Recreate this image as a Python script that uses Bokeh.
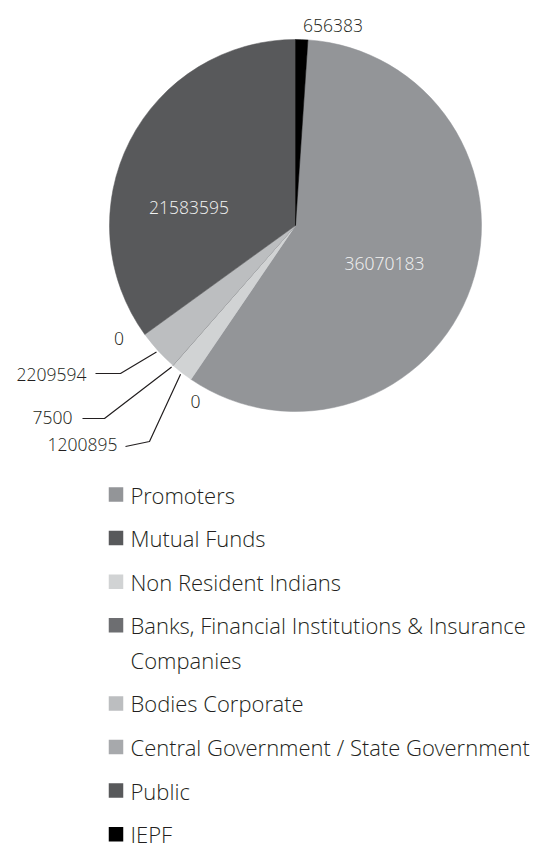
import math
from bokeh.plotting import figure
from bokeh.models import Range1d, ColumnDataSource
from bokeh.core.properties import value
from bokeh.embed import file_html
from bokeh.resources import INLINE

# ---------------- data ----------------
categories = [
    "Promoters",
    "Mutual Funds",
    "Non Resident Indians",
    "Banks, Financial Institutions & Insurance Companies",
    "Bodies Corporate",
    "Central Government / State Government",
    "Public",
    "IEPF",
]
shares = [36070183, 0, 1200895, 7500, 2209594, 0, 21583595, 656383]
colors = ["#939598", "#58595b", "#d1d3d4", "#6d6e71", "#bcbec0", "#a7a9ac", "#58595b", "#000000"]
legend_text = [
    ["Promoters"],
    ["Mutual Funds"],
    ["Non Resident Indians"],
    ["Banks, Financial Institutions & Insurance", "Companies"],
    ["Bodies Corporate"],
    ["Central Government / State Government"],
    ["Public"],
    ["IEPF"],
]

# ---------------- layout (screen px, y downwards) ----------------
W, H = 547, 850
FONT = "'Open Sans Light', 'OpenSans-Light', 'Open Sans'"
TEXT_COLOR = "#231f20"
CX, CY, R = 295, 225, 186
label_pos = [  # x, y, align, color
    (384, 263, "center", "#f2f2f2"),
    (195, 401, "center", TEXT_COLOR),
    (117, 444, "right", TEXT_COLOR),
    (72, 417, "right", TEXT_COLOR),
    (86, 374, "right", TEXT_COLOR),
    (118.5, 337.5, "center", TEXT_COLOR),
    (188.5, 206.5, "center", "#f2f2f2"),
    (332.5, 25, "center", TEXT_COLOR),
]
leader = {2: [(125, 446), (149, 441)], 3: [(82, 418), (104, 418)], 4: [(95, 373), (120, 373)]}
LEG_X, LEG_TX, LEG_Y0, LEG_STEP, LEG_WRAP, SQ = 115.5, 130, 494, 43.6, 34.5, 14.5


def Y(sy):
    return -sy


p = figure(width=W, height=H, output_backend="svg", toolbar_location=None,
           x_range=Range1d(0, W), y_range=Range1d(-H, 0),
           min_border=0, min_border_left=0, min_border_right=0,
           min_border_top=0, min_border_bottom=0)
p.axis.visible = False
p.xgrid.visible = False
p.ygrid.visible = False
p.outline_line_color = None
p.background_fill_color = "white"
p.border_fill_color = "white"

total = float(sum(shares))
last = shares[-1]
starts, ends, mids = [], [], []
cum = 0.0
for v in shares:
    s = ((cum + last) % total) / total * 360.0
    e = s + v / total * 360.0
    starts.append(s)
    ends.append(e)
    mids.append((s + e) / 2)
    cum += v

idx = [i for i, v in enumerate(shares) if v > 0]
wsrc = ColumnDataSource(dict(
    start=[math.pi / 2 - math.radians(starts[i]) for i in idx],
    end=[math.pi / 2 - math.radians(ends[i]) for i in idx],
    color=[colors[i] for i in idx],
))
p.wedge(x=CX, y=Y(CY), radius=R, start_angle="start", end_angle="end",
        direction="clock", fill_color="color", line_color="color", line_width=0.5,
        source=wsrc)

# leader lines
xs, ys = [], []
for i, pts in leader.items():
    a = math.radians(mids[i])
    tx = CX + (R + 2) * math.sin(a)
    ty = CY - (R + 2) * math.cos(a)
    xs.append([pts[0][0], pts[1][0], tx])
    ys.append([Y(pts[0][1]), Y(pts[1][1]), Y(ty)])
p.multi_line(xs=xs, ys=ys, line_color="#231f20", line_width=1.2)

# slice labels
for i, v in enumerate(shares):
    x, y, al, c = label_pos[i]
    p.text(x=[x], y=[Y(y)], text=[str(v)], text_align=al, text_baseline="middle",
           text_font=value(FONT), text_font_size="17.5px", text_color=c)

# legend
row_y = LEG_Y0
for i, lines in enumerate(legend_text):
    p.rect(x=[LEG_X], y=[Y(row_y)], width=SQ, height=SQ, fill_color=colors[i], line_color=None)
    for k, t in enumerate(lines):
        p.text(x=[LEG_TX], y=[Y(row_y + k * LEG_WRAP)], text=[t], text_align="left",
               text_baseline="middle", text_font=value(FONT), text_font_size="22px",
               text_color=TEXT_COLOR)
    row_y += LEG_STEP + LEG_WRAP * (len(lines) - 1)

open("out.html", "w").write(file_html(p, INLINE))
